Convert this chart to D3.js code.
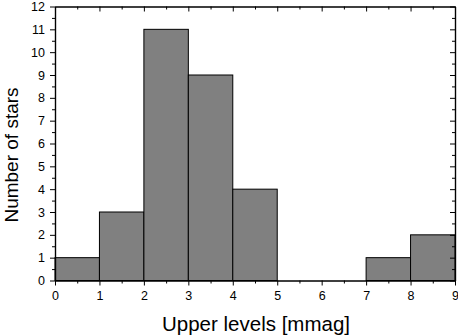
<!DOCTYPE html>
<html><head><meta charset="utf-8">
<script src="https://cdn.jsdelivr.net/npm/d3@7"></script>
<style>body{margin:0;background:#fff}svg{display:block}</style>
</head><body>
<script>
const binStarts = [0,1,2,3,4,5,6,7,8];
const binWidth = 1;
const counts = [1,3,11,9,4,0,0,1,2];
const xTicks = [0,1,2,3,4,5,6,7,8,9];
const yTicks = [0,1,2,3,4,5,6,7,8,9,10,11,12];
const xTitle = "Upper levels [mmag]";
const yTitle = "Number of stars";

const W=458,H=336;
const m={l:55,r:3,t:6.5,b:55.5};
const svg=d3.select("body").append("svg").attr("width",W).attr("height",H);
const x=d3.scaleLinear().domain([0,9]).range([m.l,W-m.r]);
const y=d3.scaleLinear().domain([0,12]).range([H-m.b,m.t]);
const font="'Liberation Sans', Arial, sans-serif";

svg.append("g").selectAll("rect").data(binStarts).join("rect")
  .attr("x",d=>x(d)).attr("width",d=>x(d+binWidth)-x(d))
  .attr("y",(d,i)=>y(counts[i])).attr("height",(d,i)=>y(0)-y(counts[i]))
  .attr("fill","#808080").attr("stroke","#000").attr("stroke-width",1);

const minorX=d3.range(0.5,9,1), minorY=d3.range(0.5,12,1);
function style(g){g.select(".domain").attr("stroke","#000").attr("stroke-width",1.2);g.selectAll(".tick line").attr("stroke","#000");g.selectAll("text").attr("font-family",font).attr("font-size",12.5).attr("fill","#000");}

// bottom
svg.append("g").attr("transform",`translate(0,${y(0)})`).call(d3.axisBottom(x).tickValues(xTicks).tickFormat(d3.format("d")).tickSize(5).tickSizeOuter(0).tickPadding(6)).call(style);
svg.append("g").attr("transform",`translate(0,${y(0)})`).call(d3.axisBottom(x).tickValues(minorX).tickFormat("").tickSize(3).tickSizeOuter(0)).call(style);
// top
svg.append("g").attr("transform",`translate(0,${y(12)})`).call(d3.axisBottom(x).tickValues(xTicks).tickFormat("").tickSize(5).tickSizeOuter(0)).call(style);
svg.append("g").attr("transform",`translate(0,${y(12)})`).call(d3.axisBottom(x).tickValues(minorX).tickFormat("").tickSize(3).tickSizeOuter(0)).call(style);
// left
svg.append("g").attr("transform",`translate(${x(0)},0)`).call(d3.axisLeft(y).tickValues(yTicks).tickFormat(d3.format("d")).tickSize(5).tickSizeOuter(0).tickPadding(5)).call(style);
svg.append("g").attr("transform",`translate(${x(0)},0)`).call(d3.axisLeft(y).tickValues(minorY).tickFormat("").tickSize(3).tickSizeOuter(0)).call(style);
// right
svg.append("g").attr("transform",`translate(${x(9)},0)`).call(d3.axisLeft(y).tickValues(yTicks).tickFormat("").tickSize(5).tickSizeOuter(0)).call(style);
svg.append("g").attr("transform",`translate(${x(9)},0)`).call(d3.axisLeft(y).tickValues(minorY).tickFormat("").tickSize(3).tickSizeOuter(0)).call(style);

svg.append("text").attr("x",256).attr("y",331).attr("text-anchor","middle")
  .attr("font-family",font).attr("font-size",20.5).text(xTitle);
svg.append("text").attr("transform",`translate(17.5,155) rotate(-90)`).attr("text-anchor","middle")
  .attr("font-family",font).attr("font-size",19).text(yTitle);
</script>
</body></html>
